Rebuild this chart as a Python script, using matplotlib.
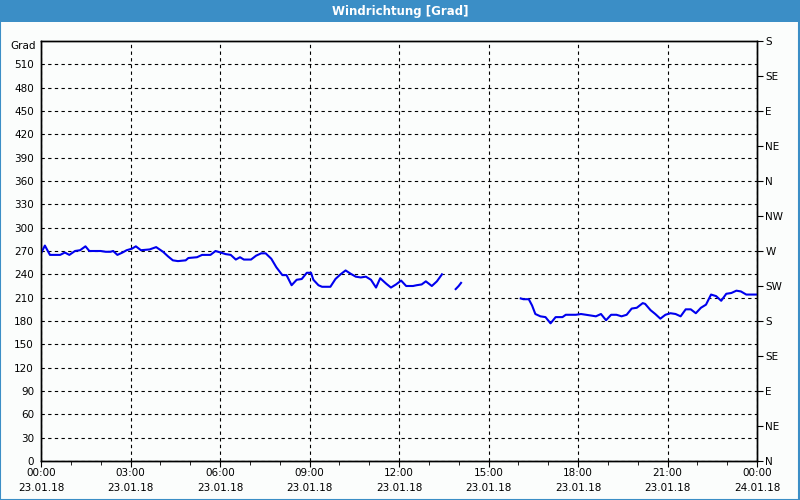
import matplotlib
matplotlib.use("Agg")
import matplotlib.pyplot as plt
import numpy as np

# --- data (hours since 23.01.18 00:00, wind direction in degrees) ---
seg1_t = [0.0, 0.13, 0.3, 0.64, 0.8, 0.95, 1.14, 1.31, 1.49, 1.62, 2.0, 2.17, 2.33, 2.42,
          2.56, 2.73, 2.87, 3.05, 3.18, 3.35, 3.64, 3.86, 4.09, 4.26, 4.42, 4.59, 4.85,
          4.94, 5.23, 5.4, 5.68, 5.85, 6.02, 6.19, 6.36, 6.53, 6.67, 6.8, 7.04, 7.21,
          7.38, 7.53, 7.72, 7.89, 8.09, 8.23, 8.4, 8.57, 8.74, 8.91, 9.05, 9.13, 9.3,
          9.42, 9.7, 9.87, 10.04, 10.21, 10.37, 10.55, 10.72, 10.89, 11.06, 11.23,
          11.37, 11.57, 11.73, 11.9, 12.07, 12.24, 12.47, 12.59, 12.76, 12.9, 13.1,
          13.27, 13.44]
seg1_v = [267, 277, 265, 265, 268, 265, 270, 271, 276, 270, 270, 269, 269, 270,
          265, 268, 271, 273, 276, 271, 272, 275, 269, 263, 258, 257, 258,
          261, 262, 265, 265, 270, 268, 266, 265, 259, 262, 259, 259, 264,
          267, 267, 260, 249, 239, 239, 226, 233, 234, 242, 242, 233, 226,
          224, 224, 234, 240, 245, 241, 237, 236, 237, 233, 223,
          235, 228, 223, 227, 232, 225, 225, 226, 227, 231, 225,
          231, 240]

seg2_t = [13.9, 14.0, 14.08]
seg2_v = [221, 225, 229]

seg3_t = [16.08, 16.17, 16.35, 16.46, 16.57, 16.74, 16.91, 17.08, 17.25, 17.48, 17.59,
          17.93, 18.1, 18.27, 18.44, 18.6, 18.77, 18.94, 19.11, 19.29, 19.46, 19.63,
          19.8, 19.97, 20.17, 20.25, 20.43, 20.59, 20.76, 20.93, 21.1, 21.27, 21.44,
          21.61, 21.78, 21.95, 22.12, 22.29, 22.46, 22.63, 22.8, 22.97, 23.14, 23.31,
          23.46, 23.64, 23.98]
seg3_v = [209, 208, 208, 200, 189, 186, 185, 177, 185, 185, 188,
          188, 189, 188, 187, 186, 189, 181, 188, 188, 186, 188,
          196, 197, 203, 202, 194, 189, 183, 188, 190, 189, 186,
          195, 195, 190, 197, 201, 214, 212, 206, 215, 216, 219,
          218, 214, 214]

left_ticks = list(range(0, 511, 30))
right_ticks = list(range(0, 541, 45))
right_labels = ["N", "NE", "E", "SE", "S", "SW", "W", "NW", "N", "NE", "E", "SE", "S"]
x_ticks = list(range(0, 25, 3))
x_labels = ["00:00\n23.01.18", "03:00\n23.01.18", "06:00\n23.01.18", "09:00\n23.01.18",
            "12:00\n23.01.18", "15:00\n23.01.18", "18:00\n23.01.18", "21:00\n23.01.18",
            "00:00\n24.01.18"]
title = "Windrichtung [Grad]"
unit = "Grad"

# --- figure ---
BG = "#fbfdfc"
BAR = "#3b8ec6"
LINE = "#0000ee"
fig = plt.figure(figsize=(8, 5), dpi=100, facecolor=BG)

# title bar
fig.patches.append(plt.Rectangle((0, 1 - 22 / 500), 1, 22 / 500, transform=fig.transFigure,
                                 facecolor=BAR, edgecolor="none", zorder=0))
fig.text(0.5, 1 - 11 / 500, title, color="white", fontsize=8.5, fontweight="bold",
         ha="center", va="center")
# window border
fig.patches.append(plt.Rectangle((0.0005, 0.001), 0.998, 0.99, transform=fig.transFigure,
                                 facecolor="none", edgecolor=BAR, linewidth=1.5, zorder=0))

ax = fig.add_axes([41 / 800, 1 - 461 / 500, 716 / 800, 420 / 500])
ax.set_facecolor(BG)
for seg_t, seg_v in [(seg1_t, seg1_v), (seg2_t, seg2_v), (seg3_t, seg3_v)]:
    ax.plot(seg_t, seg_v, color=LINE, linewidth=1.5, solid_joinstyle="round", zorder=3)

ax.set_xlim(0, 24)
ax.set_ylim(0, 540)
ax.set_yticks(left_ticks)
ax.set_yticklabels([str(v) for v in left_ticks])
ax.set_xticks(x_ticks)
ax.set_xticklabels(x_labels, linespacing=1.65)
ax.set_xticks(list(range(0, 25)), minor=True)
ax.tick_params(axis="y", length=0, pad=5, labelsize=7.5)
ax.tick_params(axis="x", which="major", length=4, pad=1, labelsize=7.5, direction="out")
ax.tick_params(axis="x", which="minor", length=3, direction="out")
ax.grid(True, which="major", color="black", linestyle=(0, (3, 3)), linewidth=0.8)
for s in ax.spines.values():
    s.set_linewidth(1.0)
    s.set_color("black")

ax2 = ax.twinx()
ax2.set_ylim(0, 540)
ax2.set_yticks(right_ticks)
ax2.set_yticklabels(right_labels)
ax2.tick_params(axis="y", length=4, pad=2, labelsize=7.5, direction="out")
for s in ax2.spines.values():
    s.set_linewidth(1.0)

fig.text(36 / 800, 1 - 46 / 500, unit, fontsize=7.5, ha="right", va="center")

fig.savefig("out.png", dpi=100, facecolor=BG)
